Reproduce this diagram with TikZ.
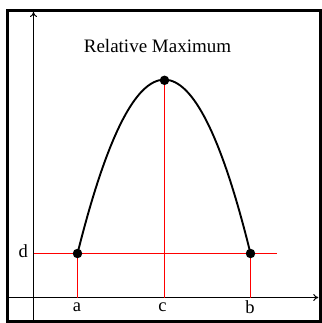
\documentclass[tikz,border=0pt]{standalone}
\usepackage{fontspec}
\setmainfont{Liberation Serif}
\usetikzlibrary{arrows.meta}
\begin{document}
\begin{tikzpicture}[x=1bp,y=-1bp,
  frame/.style={line width=2.7bp},
  axis/.style={line width=1bp,-{To[length=5bp,width=7bp]}},
  redline/.style={red,line width=1.25bp},
  curve/.style={line width=1.9bp},
  dot/.style={circle,fill=black,inner sep=0pt,minimum size=9.5bp},
  lab/.style={font=\fontsize{18.5bp}{18.5bp}\selectfont,anchor=base,inner sep=0pt},
  title/.style={font=\fontsize{19bp}{19bp}\selectfont,anchor=base,inner sep=0pt}]
\useasboundingbox (0,0) rectangle (322,323);
\draw[frame] (7.3,10.8) rectangle (320.5,321.7);
% axes
\coordinate (xs) at (7.3,297.5);
\coordinate (xe) at (318.3,297.5);
\coordinate (ys) at (33.5,321.7);
\coordinate (ye) at (33.5,12);
\draw[axis] (xs) -- (xe);
\draw[axis] (ys) -- (ye);
% points
\coordinate (A) at (77.5,253.5);
\coordinate (B) at (250.5,253.5);
\coordinate (M) at (164.5,80.3);
\coordinate (Ax) at (77.5,297.5);
\coordinate (Bx) at (250.5,297.5);
\coordinate (Mx) at (164.5,297.5);
\coordinate (ds) at (33.5,253.5);
\coordinate (de) at (277.3,253.5);
\coordinate (c1) at (135.4,21.7);
\coordinate (c2) at (193.6,21.7);
% red lines
\draw[redline] (ds) -- (de);
\draw[redline] (A) -- (Ax);
\draw[redline] (B) -- (Bx);
\draw[redline] (M) -- (Mx);
% curve
\draw[curve] (A) .. controls (c1) and (c2) .. (B);
% dots
\node[dot] (dA) at (A) {};
\node[dot] (dB) at (B) {};
\node[dot] (dM) at (M) {};
% labels
\node[title] (t) at (157.5,52.3) {Relative Maximum};
\node[lab] (ld) at (23.3,257.3) {d};
\node[lab] (la) at (77,311.7) {a};
\node[lab] (lc) at (162.5,311.7) {c};
\node[lab] (lb) at (250,313.3) {b};
\end{tikzpicture}
\end{document}
